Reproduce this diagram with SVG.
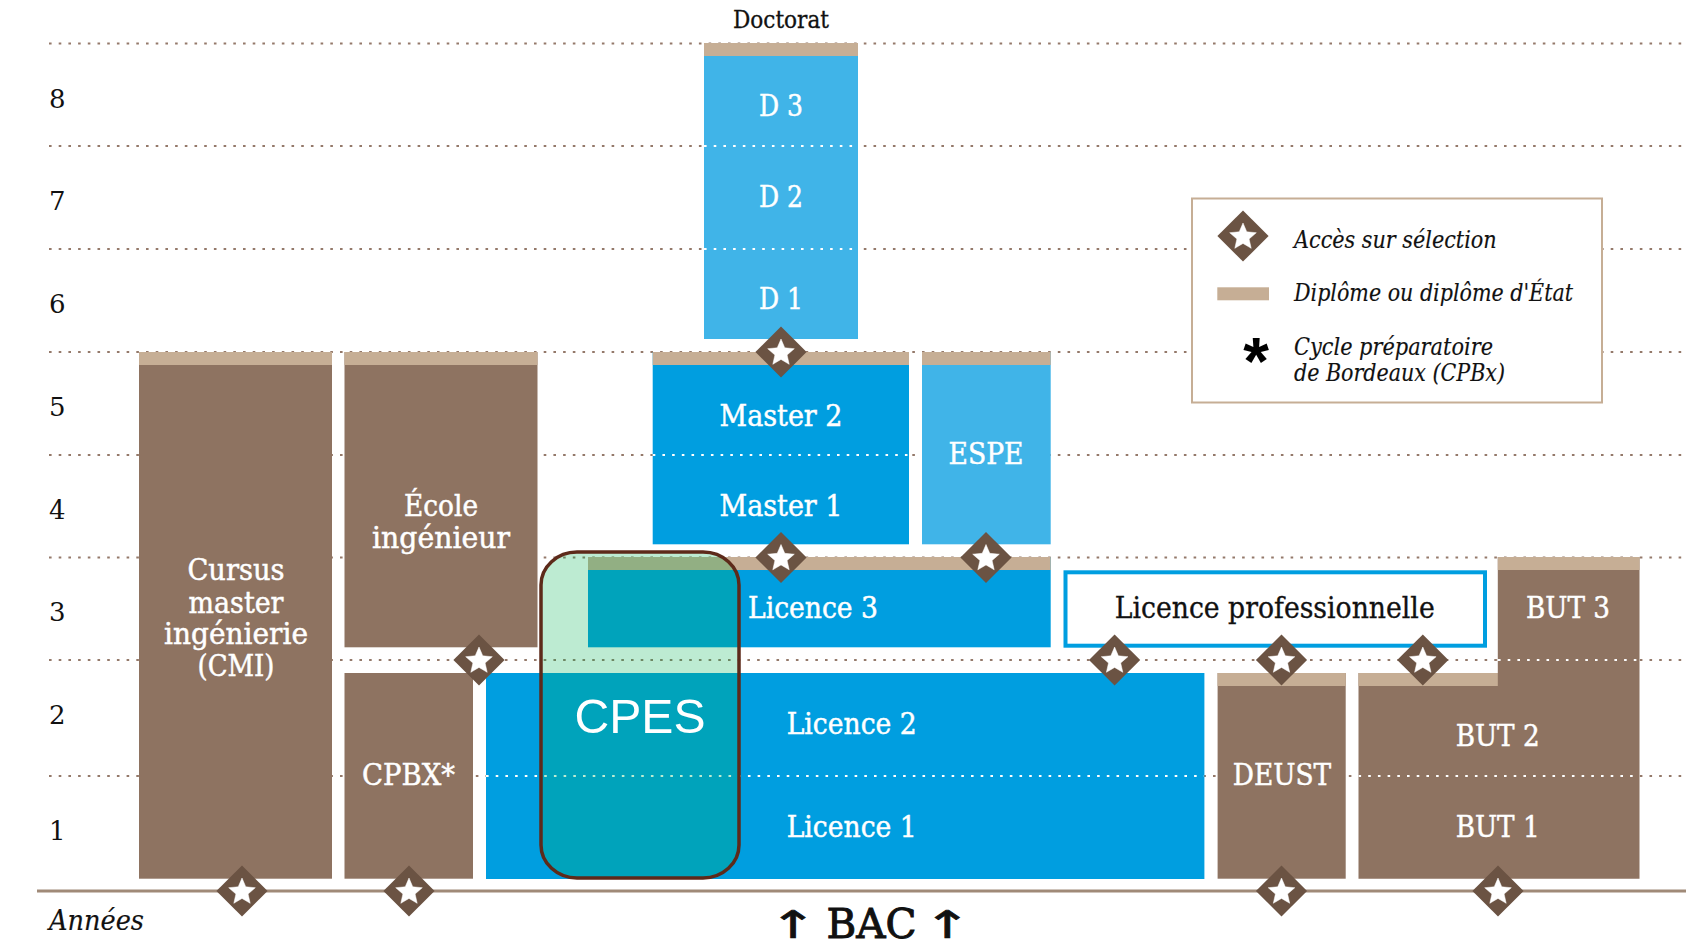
<svg xmlns="http://www.w3.org/2000/svg" xmlns:xlink="http://www.w3.org/1999/xlink" width="1686" height="946" viewBox="0 0 1686 946">
<style>
text{font-family:"DejaVu Serif","Liberation Serif",serif;font-stretch:condensed}
.w{fill:#fff;stroke:#fff;stroke-width:.45;font-size:29px;text-anchor:middle}
.k{fill:#111;stroke:#111;stroke-width:.3;text-anchor:middle}
.n{fill:#111;font-size:26px;font-stretch:normal}
.i{fill:#111;stroke:#111;stroke-width:.15;font-size:24px;font-style:italic}
.br{fill:#8e7361}.tan{fill:#c6ae95}.bl{fill:#009ee0}.lb{fill:#40b4e8}
.dots{stroke:#94796a;stroke-width:2.2;stroke-dasharray:2.6 7.1;fill:none}
.wd{stroke:#fff;stroke-width:2.2;stroke-dasharray:2.6 7.1;fill:none}
.ar{font-family:"DejaVu Sans",sans-serif;font-stretch:normal;font-size:38px;stroke-width:.7}
</style>
<defs>
<g id="sel"><polygon points="0,-25.6 25.6,0 0,25.6 -25.6,0" fill="#6b5343"/><polygon transform="translate(0,1)" points="0,-14 3.76,-5.18 13.3,-4.3 6.09,1.98 8.2,11.3 0,6.4 -8.2,11.3 -6.09,1.98 -13.3,-4.3 -3.76,-5.18" fill="#fff" stroke="#fff" stroke-width=".5" stroke-linejoin="round"/></g>
</defs>
<rect width="1686" height="946" fill="#fff"/>
<g id="grid">
<path class="dots" d="M49 43.5H1686M49 146H1686M49 249H1686M49 352H1686M49 455H1686M49 557.5H1686M49 660H1686M49 776H1686"/>
<rect x="37" y="889.5" width="1649" height="3" fill="#a08a78"/>
</g>
<g id="axis">
<text class="n" x="49" y="108">8</text><text class="n" x="49" y="210">7</text><text class="n" x="49" y="313">6</text><text class="n" x="49" y="416">5</text><text class="n" x="49" y="519">4</text><text class="n" x="49" y="621">3</text><text class="n" x="49" y="724">2</text><text class="n" x="49" y="840">1</text>
<text class="i" x="49" y="930" style="font-size:27px" textLength="95" lengthAdjust="spacingAndGlyphs">Années</text>
<text class="k ar" transform="translate(793.5,938) scale(1.5,1)" x="0" y="0">↑</text>
<text class="k" x="871.4" y="938" style="font-size:41px;stroke-width:1;font-stretch:normal" textLength="90" lengthAdjust="spacingAndGlyphs">BAC</text>
<text class="k ar" transform="translate(947.6,938) scale(1.5,1)" x="0" y="0">↑</text>
</g>
<g id="doctorat">
<text class="k" x="781" y="28.3" style="font-size:24px" textLength="96" lengthAdjust="spacingAndGlyphs">Doctorat</text>
<rect class="lb" x="704" y="43" width="154" height="296"/><rect class="tan" x="704" y="43" width="154" height="13"/>
<path class="wd" d="M704 146H858M704 249H858"/>
<text class="w" x="781" y="116.3" textLength="44" lengthAdjust="spacingAndGlyphs">D 3</text>
<text class="w" x="781" y="206.7" textLength="44" lengthAdjust="spacingAndGlyphs">D 2</text>
<text class="w" x="781" y="309.3" textLength="44" lengthAdjust="spacingAndGlyphs">D 1</text>
</g>
<g id="master">
<rect class="bl" x="652.7" y="352" width="256.3" height="192.3"/><rect class="tan" x="652.7" y="352" width="256.3" height="13"/>
<path class="wd" d="M652.7 455H909"/>
<text class="w" x="781" y="426" textLength="123" lengthAdjust="spacingAndGlyphs">Master 2</text>
<text class="w" x="781" y="516" textLength="123" lengthAdjust="spacingAndGlyphs">Master 1</text>
</g>
<g id="espe">
<rect class="lb" x="922" y="352" width="128.7" height="192.3"/><rect class="tan" x="922" y="352" width="128.7" height="13"/>
<text class="w" x="986" y="464" textLength="75" lengthAdjust="spacingAndGlyphs">ESPE</text>
</g>
<g id="cmi">
<rect class="br" x="139" y="352" width="193" height="526.7"/><rect class="tan" x="139" y="352" width="193" height="13"/>
<text class="w" x="236" y="580" textLength="97" lengthAdjust="spacingAndGlyphs">Cursus</text>
<text class="w" x="236" y="612.5" textLength="95" lengthAdjust="spacingAndGlyphs">master</text>
<text class="w" x="236" y="644" textLength="144" lengthAdjust="spacingAndGlyphs">ingénierie</text>
<text class="w" x="236" y="676" textLength="77" lengthAdjust="spacingAndGlyphs">(CMI)</text>
</g>
<g id="ecole">
<rect class="br" x="344.5" y="352" width="193" height="295.3"/><rect class="tan" x="344.5" y="352" width="193" height="13"/>
<text class="w" x="441" y="516" textLength="74" lengthAdjust="spacingAndGlyphs">École</text>
<text class="w" x="441" y="548" textLength="138" lengthAdjust="spacingAndGlyphs">ingénieur</text>
</g>
<g id="cpbx">
<rect class="br" x="344.5" y="673" width="128.5" height="205.7"/>
<text class="w" x="408.5" y="785" textLength="93" lengthAdjust="spacingAndGlyphs">CPBX*</text>
</g>
<g id="licence3">
<rect class="bl" x="588" y="557" width="462.7" height="90.3"/><rect class="tan" x="588" y="557" width="462.7" height="13"/>
<text class="w" x="813" y="618" textLength="130" lengthAdjust="spacingAndGlyphs">Licence 3</text>
</g>
<g id="licence12">
<rect class="bl" x="486" y="673" width="718.4" height="206"/>
<path class="wd" d="M486 776H1204"/>
<text class="w" x="851.7" y="734" textLength="130" lengthAdjust="spacingAndGlyphs">Licence 2</text>
<text class="w" x="851.7" y="837" textLength="130" lengthAdjust="spacingAndGlyphs">Licence 1</text>
</g>
<g id="licencepro">
<rect x="1065.5" y="572.3" width="419.5" height="73.4" fill="#fff" stroke="#009ee0" stroke-width="4"/>
<text class="k" x="1274.7" y="618" style="font-size:29px" textLength="320" lengthAdjust="spacingAndGlyphs">Licence professionnelle</text>
</g>
<g id="deust">
<rect class="br" x="1217.6" y="673" width="128.1" height="205.7"/><rect class="tan" x="1217.6" y="673" width="128.1" height="13"/>
<text class="w" x="1282" y="785" textLength="98.5" lengthAdjust="spacingAndGlyphs">DEUST</text>
</g>
<g id="but">
<path class="br" d="M1497.8 557H1639.5V878.7H1358.5V673H1497.8Z"/>
<rect class="tan" x="1497.8" y="557" width="141.7" height="13"/><rect class="tan" x="1358.5" y="673" width="139.3" height="13"/>
<path class="wd" d="M1498 660H1639M1358.5 776H1639"/>
<text class="w" x="1568" y="617.7" textLength="84" lengthAdjust="spacingAndGlyphs">BUT 3</text>
<text class="w" x="1497.7" y="746" textLength="84" lengthAdjust="spacingAndGlyphs">BUT 2</text>
<text class="w" x="1497.7" y="836.5" textLength="84" lengthAdjust="spacingAndGlyphs">BUT 1</text>
</g>
<g id="cpes">
<rect x="541" y="552" width="198" height="326" rx="36" ry="33" fill="#00b050" fill-opacity=".26" stroke="#5d2a1a" stroke-width="3.5"/>
<text x="640" y="733.3" style="font-family:'Liberation Sans',sans-serif;font-size:48px;font-stretch:normal" fill="#fff" text-anchor="middle" textLength="131" lengthAdjust="spacingAndGlyphs">CPES</text>
</g>
<g id="selections">
<use xlink:href="#sel" href="#sel" x="781" y="352"/>
<use xlink:href="#sel" href="#sel" x="781" y="557.5"/>
<use xlink:href="#sel" href="#sel" x="986" y="557.5"/>
<use xlink:href="#sel" href="#sel" x="479" y="660"/>
<use xlink:href="#sel" href="#sel" x="1114.6" y="660"/>
<use xlink:href="#sel" href="#sel" x="1281.5" y="660"/>
<use xlink:href="#sel" href="#sel" x="1422.8" y="660"/>
<use xlink:href="#sel" href="#sel" x="242" y="891"/>
<use xlink:href="#sel" href="#sel" x="409" y="891"/>
<use xlink:href="#sel" href="#sel" x="1281.5" y="891"/>
<use xlink:href="#sel" href="#sel" x="1498" y="891"/>
</g>
<g id="legend">
<rect x="1192" y="198.5" width="410" height="204" fill="#fff" stroke="#c6ae95" stroke-width="2"/>
<use xlink:href="#sel" href="#sel" x="1243" y="236"/>
<rect class="tan" x="1217.3" y="287.3" width="51.7" height="13"/>
<text x="1256" y="383.5" style="font-family:'Liberation Sans',sans-serif;font-weight:bold;font-size:66px;font-stretch:normal" fill="#000" text-anchor="middle">*</text>
<text class="i" x="1294" y="247.7" textLength="202.7" lengthAdjust="spacingAndGlyphs">Accès sur sélection</text>
<text class="i" x="1294" y="300.5" textLength="279" lengthAdjust="spacingAndGlyphs">Diplôme ou diplôme d'État</text>
<text class="i" x="1294" y="355" textLength="199" lengthAdjust="spacingAndGlyphs">Cycle préparatoire</text>
<text class="i" x="1294" y="381" textLength="211" lengthAdjust="spacingAndGlyphs">de Bordeaux (CPBx)</text>
</g>
</svg>
